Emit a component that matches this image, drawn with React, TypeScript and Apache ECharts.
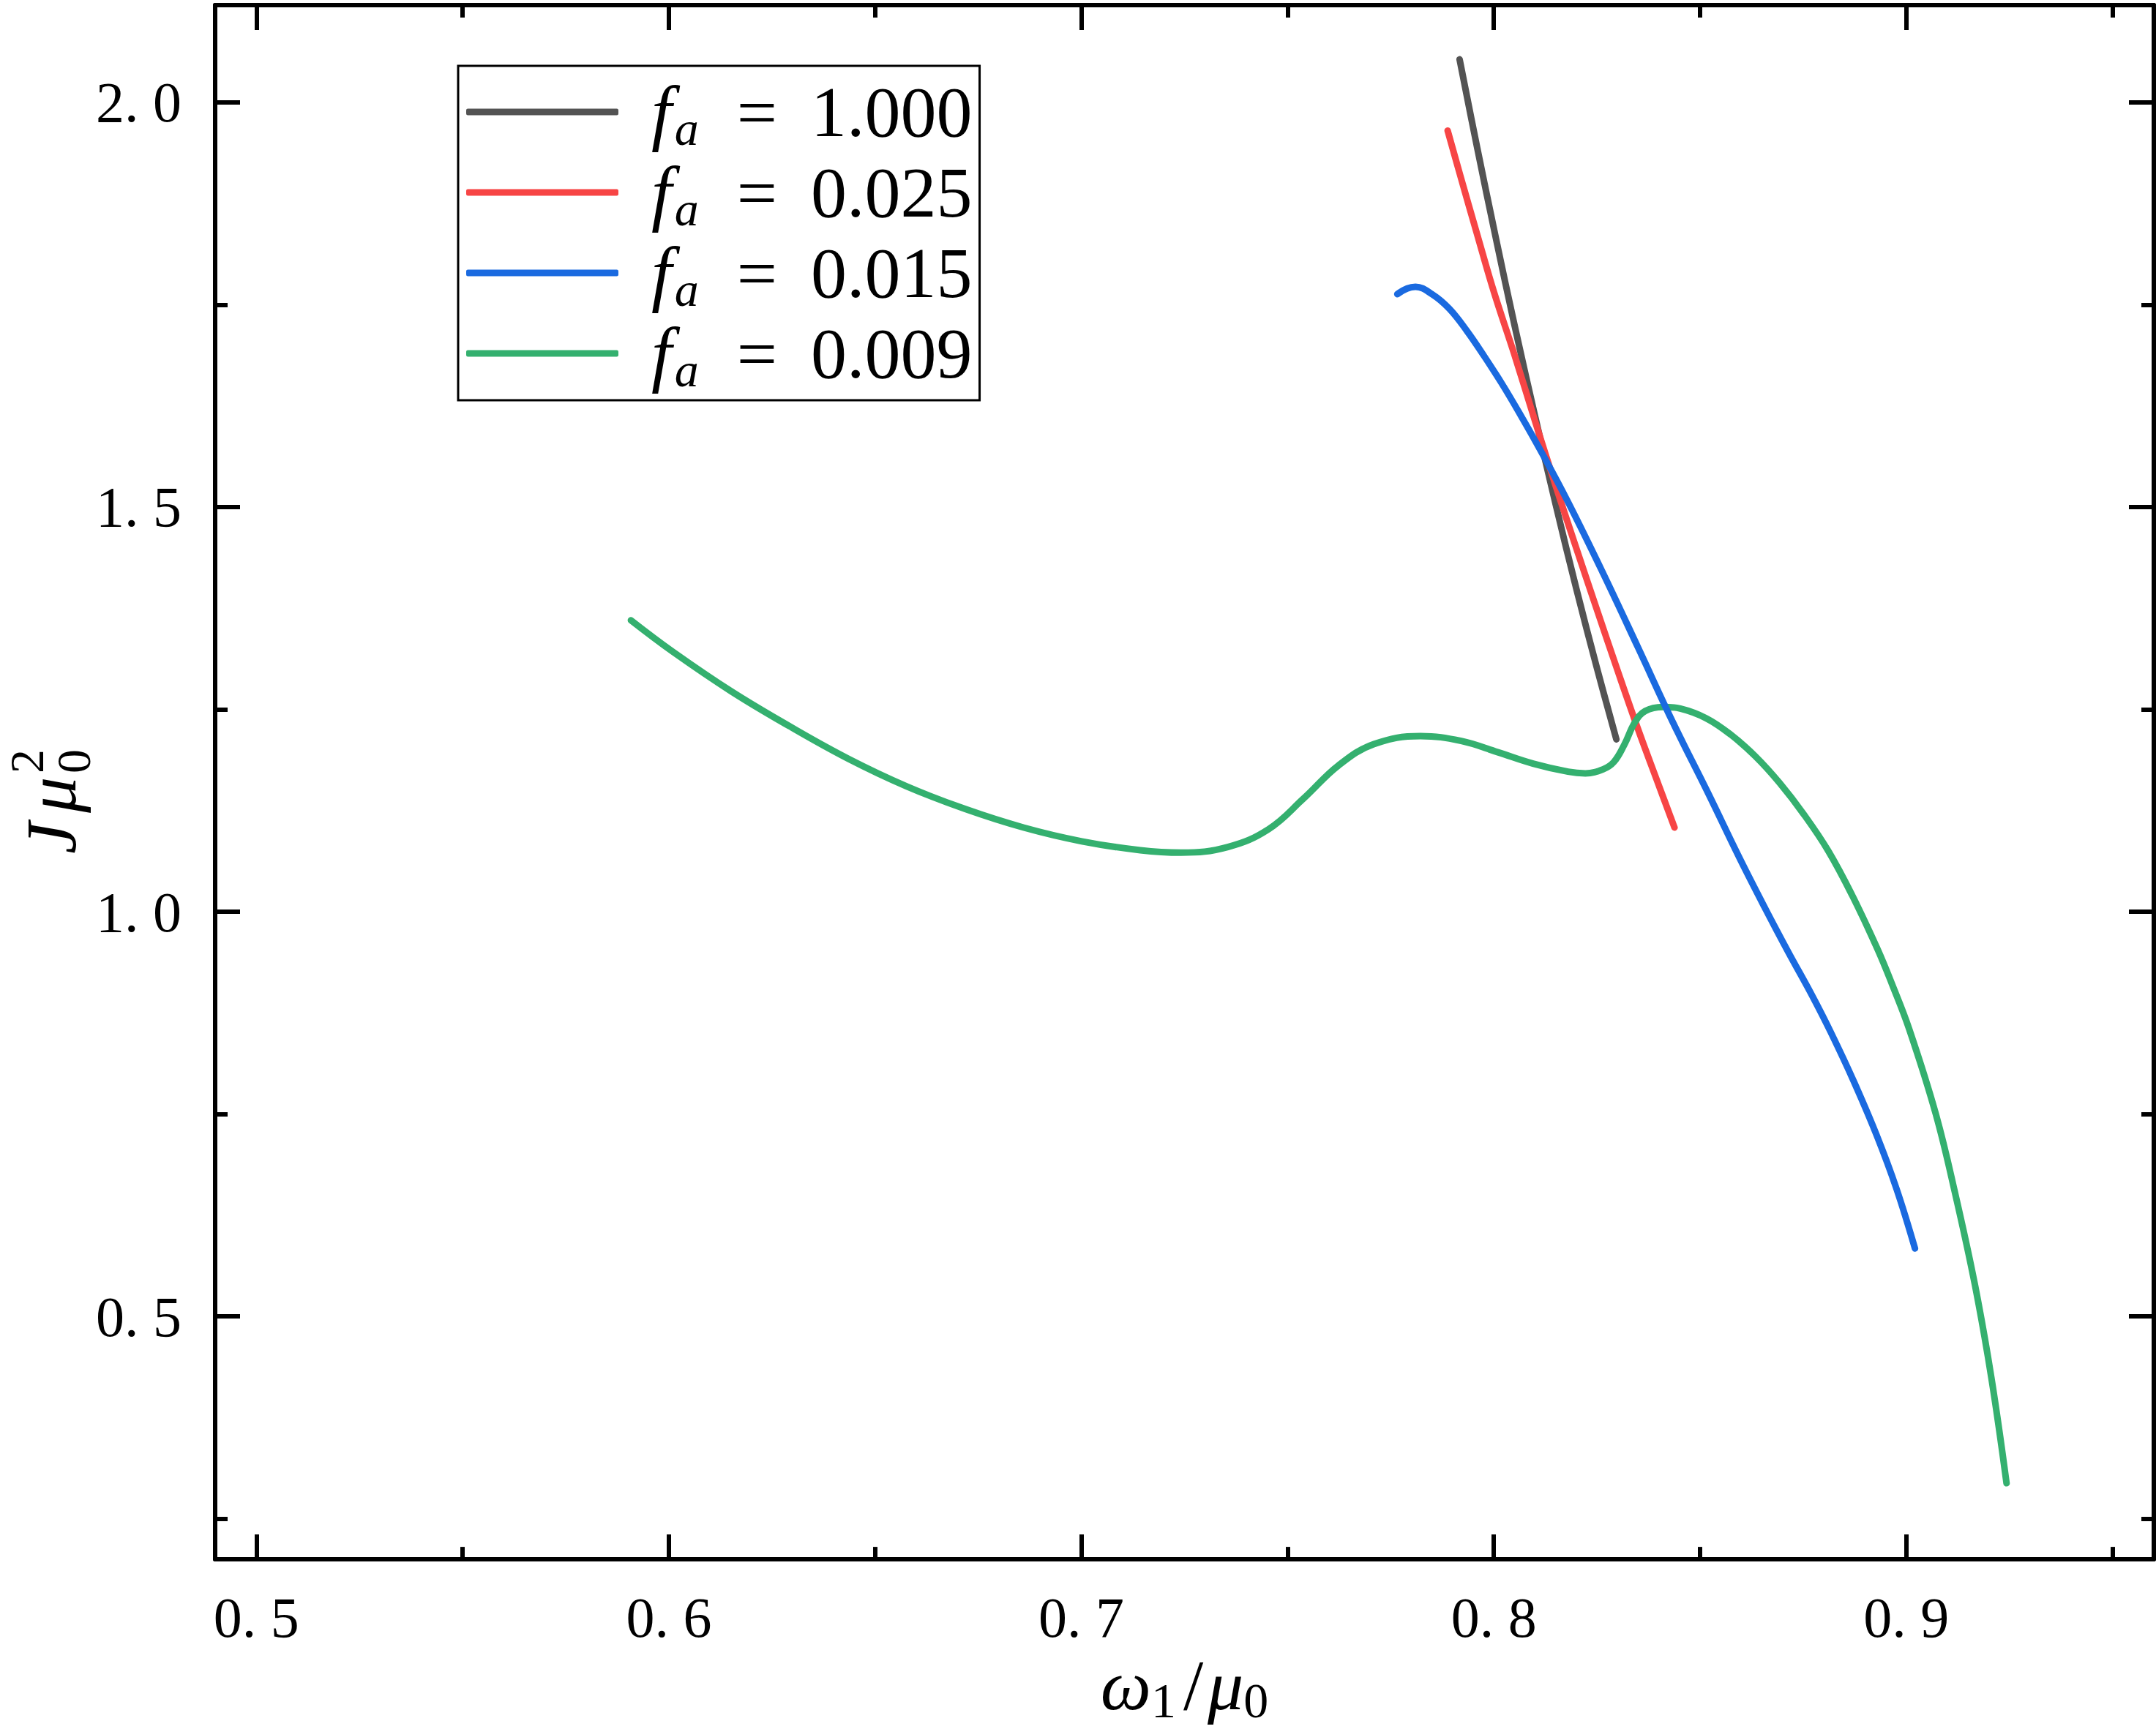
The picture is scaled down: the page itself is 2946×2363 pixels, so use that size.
import React, { useEffect, useRef } from "react";
import * as echarts from "echarts";

// ---- data ----
const SERIES_NAMES = ["1.000", "0.025", "0.015", "0.009"];
const SERIES_COLORS = ["#535353", "#f74545", "#1a6ae0", "#34b06f"];

const BLACK_X = [0.7917, 0.796, 0.8005, 0.805, 0.81, 0.815, 0.82, 0.825, 0.8297];
const BLACK_Y = [2.053, 1.943, 1.832, 1.725, 1.612, 1.503, 1.399, 1.301, 1.213];

const RED_X = [0.7888, 0.792, 0.796, 0.8, 0.805, 0.81, 0.815, 0.82, 0.825, 0.83, 0.835, 0.84, 0.8438];
const RED_Y = [1.965, 1.907, 1.836, 1.766, 1.688, 1.606, 1.526, 1.449, 1.373, 1.298, 1.225, 1.156, 1.104];

const BLUE_X = [0.7766, 0.779, 0.781, 0.785, 0.7892, 0.7934, 0.7977, 0.802, 0.8062, 0.8112, 0.818, 0.8265, 0.835, 0.8435, 0.852, 0.8596, 0.8659, 0.8714, 0.877, 0.8817, 0.8873, 0.8928, 0.8976, 0.9021];
const BLUE_Y = [1.763, 1.77, 1.772, 1.763, 1.745, 1.718, 1.686, 1.652, 1.616, 1.571, 1.506, 1.418, 1.326, 1.233, 1.146, 1.066, 1.003, 0.95, 0.898, 0.851, 0.79, 0.724, 0.658, 0.584];

const GREEN_X = [0.5908, 0.601, 0.6152, 0.6293, 0.6435, 0.6576, 0.6718, 0.686, 0.7001, 0.7143, 0.7242, 0.7355, 0.7454, 0.7539, 0.7624, 0.7709, 0.7822, 0.7921, 0.801, 0.8095, 0.818, 0.8222, 0.8265, 0.8291, 0.8316, 0.8342, 0.8367, 0.841, 0.8452, 0.8515, 0.8574, 0.8634, 0.8693, 0.8752, 0.8811, 0.887, 0.893, 0.8965, 0.9007, 0.9071, 0.9118, 0.9166, 0.9206, 0.9243];
const GREEN_Y = [1.36, 1.321, 1.272, 1.229, 1.189, 1.155, 1.127, 1.104, 1.087, 1.076, 1.073, 1.08, 1.102, 1.14, 1.181, 1.207, 1.217, 1.211, 1.197, 1.183, 1.173, 1.171, 1.176, 1.185, 1.206, 1.234, 1.248, 1.253, 1.251, 1.239, 1.219, 1.192, 1.159, 1.12, 1.075, 1.019, 0.954, 0.911, 0.855, 0.751, 0.653, 0.54, 0.425, 0.294];

const SERIES_X = [BLACK_X, RED_X, BLUE_X, GREEN_X];
const SERIES_Y = [BLACK_Y, RED_Y, BLUE_Y, GREEN_Y];
const SERIES_Z = [2, 3, 5, 4];

const X_MIN = 0.49;
const X_MAX = 0.96;
const Y_MIN = 0.2;
const Y_MAX = 2.12;
const X_MAJOR = [0.5, 0.6, 0.7, 0.8, 0.9];
const X_MINOR = [0.55, 0.65, 0.75, 0.85, 0.95];
const Y_MAJOR = [0.5, 1.0, 1.5, 2.0];
const Y_MINOR = [0.25, 0.75, 1.25, 1.75];

const SERIF = '"Liberation Serif", serif';

function fmtTick(v: number): string {
  return v.toFixed(1).replace(".", ". ");
}

function makeAxis(dim: "x" | "y", position: string, values: number[], len: number, showLine: boolean, showLabel: boolean, extra: any = {}) {
  const isX = dim === "x";
  return {
    type: "value",
    gridIndex: 0,
    position,
    min: isX ? X_MIN : Y_MIN,
    max: isX ? X_MAX : Y_MAX,
    axisLine: { show: showLine, onZero: false, lineStyle: { color: "#000", width: 6 } },
    axisTick: {
      show: true,
      inside: true,
      length: len,
      customValues: values,
      lineStyle: { color: "#000", width: 6 },
    },
    minorTick: { show: false },
    splitLine: { show: false },
    axisLabel: showLabel
      ? {
          show: true,
          customValues: values,
          formatter: (v: number) => fmtTick(v),
          fontFamily: SERIF,
          fontSize: 78,
          color: "#000",
          margin: isX ? 40 : 46,
        }
      : { show: false },
    ...extra,
  };
}

export default function App() {
  const ref = useRef<HTMLDivElement>(null);

  useEffect(() => {
    if (!ref.current) return;
    const chart = echarts.init(ref.current, undefined, { renderer: "svg" });

    const series = SERIES_NAMES.map((name, i) => ({
      name,
      type: "line",
      xAxisIndex: 0,
      yAxisIndex: 0,
      data: SERIES_X[i].map((x, k) => [x, SERIES_Y[i][k]]),
      showSymbol: false,
      symbol: "none",
      smooth: 0.4,
      z: SERIES_Z[i],
      color: SERIES_COLORS[i],
      lineStyle: { color: SERIES_COLORS[i], width: 9, cap: "round", join: "round" },
      emphasis: { disabled: true },
    }));

    const option: any = {
      animation: false,
      backgroundColor: "#fff",
      grid: { left: 294, right: 3, top: 7, bottom: 226, containLabel: false },
      xAxis: [
        makeAxis("x", "bottom", X_MAJOR, 34, true, true, {
          name: "{i|ω}{s|1}{u|/}{i|μ}{s|0}",
          nameLocation: "middle",
          nameGap: 109,
          nameTextStyle: {
            color: "#000",
            rich: {
              i: { fontFamily: SERIF, fontStyle: "italic", fontSize: 98, lineHeight: 110, color: "#000" },
              u: { fontFamily: SERIF, fontSize: 98, lineHeight: 110, padding: [0, 6, 0, 10], color: "#000" },
              s: { fontFamily: SERIF, fontSize: 68, lineHeight: 66, verticalAlign: "bottom", color: "#000" },
            },
          },
        }),
        makeAxis("x", "bottom", X_MINOR, 17, false, false),
        makeAxis("x", "top", X_MAJOR, 34, true, false),
        makeAxis("x", "top", X_MINOR, 17, false, false),
      ],
      yAxis: [
        makeAxis("y", "left", Y_MAJOR, 34, true, true),
        makeAxis("y", "left", Y_MINOR, 17, false, false),
        makeAxis("y", "right", Y_MAJOR, 34, true, false),
        makeAxis("y", "right", Y_MINOR, 17, false, false),
      ],
      legend: {
        orient: "vertical",
        left: 626,
        top: 90,
        padding: [8, 10, 9, 11],
        itemGap: 0,
        itemWidth: 208,
        itemHeight: 9,
        icon: "roundRect",
        borderColor: "#000",
        borderWidth: 3,
        borderRadius: 0,
        backgroundColor: "#fff",
        selectedMode: false,
        data: SERIES_NAMES,
        formatter: (name: string) => `{f|f}{a|a}{eq|=}{n|${name}}`,
        textStyle: {
          fontFamily: SERIF,
          fontSize: 98,
          lineHeight: 110,
          color: "#000",
          rich: {
            f: { fontFamily: SERIF, fontStyle: "italic", fontSize: 100, lineHeight: 110, padding: [0, 4, 0, 40], color: "#000" },
            a: { fontFamily: SERIF, fontStyle: "italic", fontSize: 66, lineHeight: 60, verticalAlign: "bottom", color: "#000" },
            eq: { fontFamily: SERIF, fontSize: 98, lineHeight: 110, padding: [0, 46, 0, 52], color: "#000" },
            n: { fontFamily: SERIF, fontSize: 98, lineHeight: 110, color: "#000" },
          },
        },
      },
      graphic: [
        {
          type: "group",
          x: 102,
          y: 1167,
          rotation: Math.PI / 2,
          children: [
            { type: "text", x: 0, y: -32, style: { text: "J", font: `italic 98px ${SERIF}`, fill: "#000", align: "left", verticalAlign: "middle", textAlign: "left", textVerticalAlign: "middle" } },
            { type: "text", x: 56, y: -32, style: { text: "μ", font: `italic 98px ${SERIF}`, fill: "#000", align: "left", verticalAlign: "middle", textAlign: "left", textVerticalAlign: "middle" } },
            { type: "text", x: 110, y: -66, style: { text: "2", font: `66px ${SERIF}`, fill: "#000", align: "left", verticalAlign: "middle", textAlign: "left", textVerticalAlign: "middle" } },
            { type: "text", x: 110, y: -2, style: { text: "0", font: `66px ${SERIF}`, fill: "#000", align: "left", verticalAlign: "middle", textAlign: "left", textVerticalAlign: "middle" } },
          ],
        },
      ],
      series,
    };

    chart.setOption(option);
    return () => chart.dispose();
  }, []);

  return (
    <div
      ref={ref}
      style={{ position: "fixed", left: 0, top: 0, width: 2946, height: 2363, background: "#fff" }}
    />
  );
}
